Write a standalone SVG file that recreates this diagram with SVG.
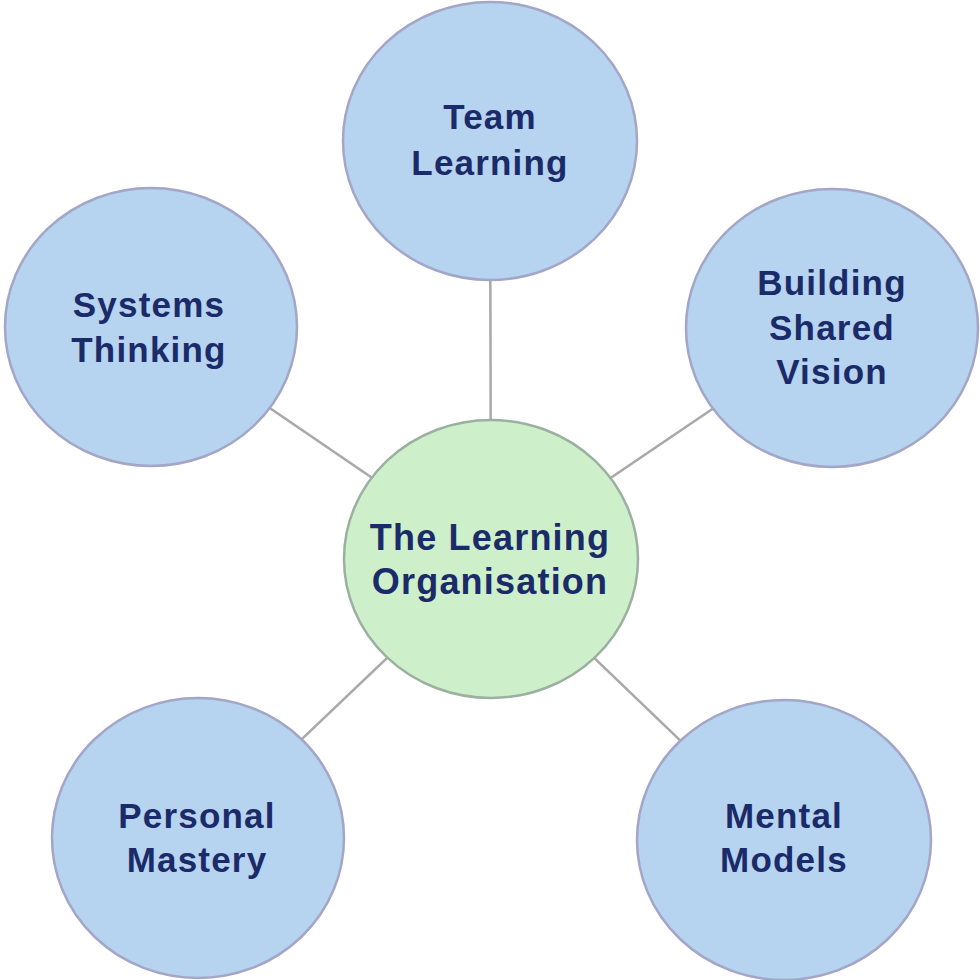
<svg xmlns="http://www.w3.org/2000/svg" width="980" height="980" viewBox="0 0 980 980">
<style>
.blue{fill:#b6d3ef;stroke:#a3a6c6;stroke-width:2.5}
.green{fill:#cdf0ca;stroke:#9bb0a0;stroke-width:2.5}
.lbl{font-family:"Liberation Sans",Arial,sans-serif;font-weight:bold;font-size:35px;fill:#1b2a68;text-anchor:middle;letter-spacing:1.2px}
.conn{stroke:#a9a9ad;stroke-width:2.5;fill:none}
</style>
<rect width="980" height="980" fill="#ffffff"/>
<g id="connectors">
<line class="conn" x1="491" y1="559" x2="490" y2="141"/>
<line class="conn" x1="491" y1="559" x2="151" y2="327"/>
<line class="conn" x1="491" y1="559" x2="832" y2="328"/>
<line class="conn" x1="491" y1="559" x2="198" y2="838"/>
<line class="conn" x1="491" y1="559" x2="784" y2="840"/>
</g>
<g id="team-learning">
<ellipse class="blue" cx="490" cy="141" rx="147" ry="139"/>
<text class="lbl" x="490" y="129">Team</text>
<text class="lbl" x="490" y="175">Learning</text>
</g>
<g id="systems-thinking">
<ellipse class="blue" cx="151" cy="327" rx="146" ry="139"/>
<text class="lbl" x="149" y="317">Systems</text>
<text class="lbl" x="149" y="362">Thinking</text>
</g>
<g id="building-shared-vision">
<ellipse class="blue" cx="832" cy="328" rx="146" ry="139"/>
<text class="lbl" x="832" y="295">Building</text>
<text class="lbl" x="832" y="340">Shared</text>
<text class="lbl" x="832" y="384">Vision</text>
</g>
<g id="learning-organisation">
<ellipse class="green" cx="491" cy="559" rx="147" ry="139"/>
<text class="lbl" x="490" y="550" style="font-size:36px">The Learning</text>
<text class="lbl" x="490" y="594" style="font-size:36px">Organisation</text>
</g>
<g id="personal-mastery">
<ellipse class="blue" cx="198" cy="838" rx="146" ry="140"/>
<text class="lbl" x="197" y="828">Personal</text>
<text class="lbl" x="197" y="872">Mastery</text>
</g>
<g id="mental-models">
<ellipse class="blue" cx="784" cy="840" rx="147" ry="140"/>
<text class="lbl" x="784" y="828">Mental</text>
<text class="lbl" x="784" y="872">Models</text>
</g>
</svg>
